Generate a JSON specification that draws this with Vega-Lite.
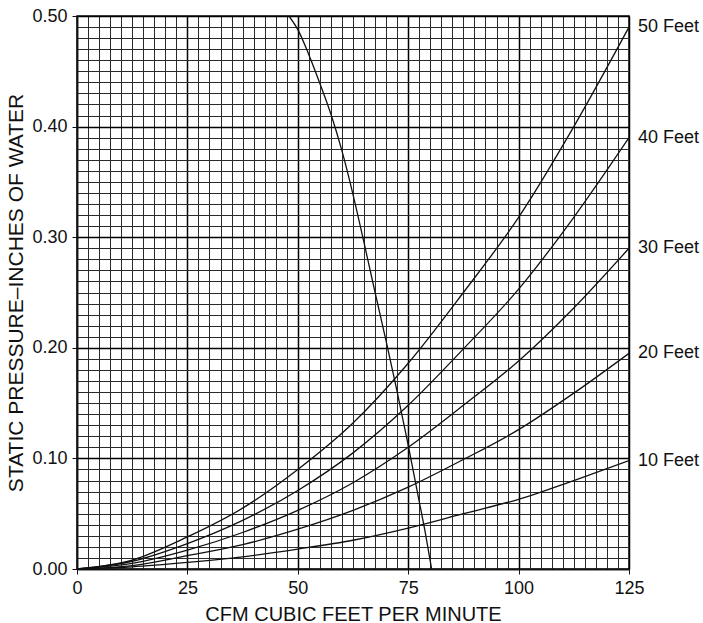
{
  "$schema": "https://vega.github.io/schema/vega-lite/v6.json",
  "width": 552,
  "height": 553,
  "autosize": "none",
  "padding": {"left": 77, "top": 16, "right": 74, "bottom": 54},
  "background": "white",
  "data": {
    "values": [
      {"series": "50 Feet", "cfm": 0, "sp": 0},
      {"series": "50 Feet", "cfm": 12.5, "sp": 0.008},
      {"series": "50 Feet", "cfm": 25, "sp": 0.029},
      {"series": "50 Feet", "cfm": 37.5, "sp": 0.055},
      {"series": "50 Feet", "cfm": 50, "sp": 0.090},
      {"series": "50 Feet", "cfm": 62.5, "sp": 0.132},
      {"series": "50 Feet", "cfm": 75, "sp": 0.186},
      {"series": "50 Feet", "cfm": 87.5, "sp": 0.250},
      {"series": "50 Feet", "cfm": 100, "sp": 0.318},
      {"series": "50 Feet", "cfm": 112.5, "sp": 0.400},
      {"series": "50 Feet", "cfm": 125, "sp": 0.490},
      {"series": "40 Feet", "cfm": 0, "sp": 0},
      {"series": "40 Feet", "cfm": 12.5, "sp": 0.007},
      {"series": "40 Feet", "cfm": 25, "sp": 0.023},
      {"series": "40 Feet", "cfm": 37.5, "sp": 0.044},
      {"series": "40 Feet", "cfm": 50, "sp": 0.071},
      {"series": "40 Feet", "cfm": 62.5, "sp": 0.105},
      {"series": "40 Feet", "cfm": 75, "sp": 0.148},
      {"series": "40 Feet", "cfm": 87.5, "sp": 0.199},
      {"series": "40 Feet", "cfm": 100, "sp": 0.253},
      {"series": "40 Feet", "cfm": 112.5, "sp": 0.318},
      {"series": "40 Feet", "cfm": 125, "sp": 0.390},
      {"series": "30 Feet", "cfm": 0, "sp": 0},
      {"series": "30 Feet", "cfm": 12.5, "sp": 0.005},
      {"series": "30 Feet", "cfm": 25, "sp": 0.017},
      {"series": "30 Feet", "cfm": 37.5, "sp": 0.033},
      {"series": "30 Feet", "cfm": 50, "sp": 0.053},
      {"series": "30 Feet", "cfm": 62.5, "sp": 0.078},
      {"series": "30 Feet", "cfm": 75, "sp": 0.110},
      {"series": "30 Feet", "cfm": 87.5, "sp": 0.148},
      {"series": "30 Feet", "cfm": 100, "sp": 0.188},
      {"series": "30 Feet", "cfm": 112.5, "sp": 0.236},
      {"series": "30 Feet", "cfm": 125, "sp": 0.290},
      {"series": "20 Feet", "cfm": 0, "sp": 0},
      {"series": "20 Feet", "cfm": 12.5, "sp": 0.003},
      {"series": "20 Feet", "cfm": 25, "sp": 0.012},
      {"series": "20 Feet", "cfm": 37.5, "sp": 0.022},
      {"series": "20 Feet", "cfm": 50, "sp": 0.036},
      {"series": "20 Feet", "cfm": 62.5, "sp": 0.053},
      {"series": "20 Feet", "cfm": 75, "sp": 0.074},
      {"series": "20 Feet", "cfm": 87.5, "sp": 0.099},
      {"series": "20 Feet", "cfm": 100, "sp": 0.126},
      {"series": "20 Feet", "cfm": 112.5, "sp": 0.159},
      {"series": "20 Feet", "cfm": 125, "sp": 0.195},
      {"series": "10 Feet", "cfm": 0, "sp": 0},
      {"series": "10 Feet", "cfm": 12.5, "sp": 0.002},
      {"series": "10 Feet", "cfm": 25, "sp": 0.006},
      {"series": "10 Feet", "cfm": 37.5, "sp": 0.011},
      {"series": "10 Feet", "cfm": 50, "sp": 0.018},
      {"series": "10 Feet", "cfm": 62.5, "sp": 0.026},
      {"series": "10 Feet", "cfm": 75, "sp": 0.037},
      {"series": "10 Feet", "cfm": 87.5, "sp": 0.050},
      {"series": "10 Feet", "cfm": 100, "sp": 0.063},
      {"series": "10 Feet", "cfm": 112.5, "sp": 0.080},
      {"series": "10 Feet", "cfm": 125, "sp": 0.098},
      {"series": "Fan", "cfm": 48, "sp": 0.500},
      {"series": "Fan", "cfm": 50.1, "sp": 0.487},
      {"series": "Fan", "cfm": 52.5, "sp": 0.465},
      {"series": "Fan", "cfm": 55, "sp": 0.439},
      {"series": "Fan", "cfm": 57.6, "sp": 0.410},
      {"series": "Fan", "cfm": 60, "sp": 0.378},
      {"series": "Fan", "cfm": 62.6, "sp": 0.337},
      {"series": "Fan", "cfm": 65, "sp": 0.295},
      {"series": "Fan", "cfm": 67.5, "sp": 0.250},
      {"series": "Fan", "cfm": 70, "sp": 0.206},
      {"series": "Fan", "cfm": 72.3, "sp": 0.164},
      {"series": "Fan", "cfm": 75, "sp": 0.112},
      {"series": "Fan", "cfm": 77.3, "sp": 0.065},
      {"series": "Fan", "cfm": 79, "sp": 0.030},
      {"series": "Fan", "cfm": 80.3, "sp": 0}
    ]
  },
  "encoding": {
    "x": {
      "field": "cfm",
      "type": "quantitative",
      "scale": {"domain": [0, 125], "nice": false},
      "title": "CFM CUBIC FEET PER MINUTE",
      "axis": {
        "values": [0, 2.5, 5, 7.5, 10, 12.5, 15, 17.5, 20, 22.5, 25, 27.5, 30, 32.5, 35, 37.5, 40, 42.5, 45, 47.5, 50, 52.5, 55, 57.5, 60, 62.5, 65, 67.5, 70, 72.5, 75, 77.5, 80, 82.5, 85, 87.5, 90, 92.5, 95, 97.5, 100, 102.5, 105, 107.5, 110, 112.5, 115, 117.5, 120, 122.5, 125],
        "grid": true,
        "gridColor": {"condition": {"test": "datum.value % 25 === 0", "value": "#000"}, "value": "#2a2a2a"},
        "gridWidth": {"condition": {"test": "datum.value % 25 === 0", "value": 1.5}, "value": 1},
        "tickSize": {"condition": {"test": "datum.value % 25 === 0", "value": 5}, "value": 0},
        "tickColor": "#111",
        "labelExpr": "datum.value % 25 === 0 ? format(datum.value, 'd') : ''",
        "labelOverlap": false,
        "labelFlush": false,
        "labelFont": "Liberation Sans",
        "labelFontSize": 18,
        "labelColor": "#111",
        "labelPadding": 5,
        "titleFont": "Liberation Sans",
        "titleFontSize": 20,
        "titleFontWeight": "normal",
        "titleColor": "#111",
        "titlePadding": 7,
        "domainColor": "#111",
        "domainWidth": 1.5
      }
    },
    "y": {
      "field": "sp",
      "type": "quantitative",
      "scale": {"domain": [0, 0.5], "nice": false},
      "title": "STATIC PRESSURE\u2013INCHES OF WATER",
      "axis": {
        "values": [0, 0.01, 0.02, 0.03, 0.04, 0.05, 0.06, 0.07, 0.08, 0.09, 0.1, 0.11, 0.12, 0.13, 0.14, 0.15, 0.16, 0.17, 0.18, 0.19, 0.2, 0.21, 0.22, 0.23, 0.24, 0.25, 0.26, 0.27, 0.28, 0.29, 0.3, 0.31, 0.32, 0.33, 0.34, 0.35, 0.36, 0.37, 0.38, 0.39, 0.4, 0.41, 0.42, 0.43, 0.44, 0.45, 0.46, 0.47, 0.48, 0.49, 0.5],
        "grid": true,
        "gridColor": {"condition": {"test": "abs(datum.value * 10 - round(datum.value * 10)) < 0.001", "value": "#000"}, "value": "#2a2a2a"},
        "gridWidth": {"condition": {"test": "abs(datum.value * 10 - round(datum.value * 10)) < 0.001", "value": 1.5}, "value": 1},
        "tickSize": {"condition": {"test": "abs(datum.value * 10 - round(datum.value * 10)) < 0.001", "value": 5}, "value": 0},
        "tickColor": "#111",
        "labelExpr": "abs(datum.value * 10 - round(datum.value * 10)) < 0.001 ? format(datum.value, '.2f') : ''",
        "labelOverlap": false,
        "labelFlush": false,
        "labelFont": "Liberation Sans",
        "labelFontSize": 18,
        "labelColor": "#111",
        "labelPadding": 5,
        "titleFont": "Liberation Sans",
        "titleFontSize": 21,
        "titleFontWeight": "normal",
        "titleColor": "#111",
        "titlePadding": 5,
        "domainColor": "#111",
        "domainWidth": 1.5
      }
    }
  },
  "layer": [
    {
      "mark": {"type": "line", "color": "#111", "strokeWidth": 1.3, "interpolate": "monotone", "clip": true},
      "encoding": {
        "detail": {"field": "series", "type": "nominal"}
      }
    },
    {
      "transform": [{"filter": "datum.cfm === 125 && datum.series !== 'Fan'"}],
      "mark": {"type": "text", "align": "left", "baseline": "middle", "dx": 9, "font": "Liberation Sans", "fontSize": 18, "color": "#111"},
      "encoding": {
        "text": {"field": "series", "type": "nominal"}
      }
    }
  ],
  "config": {
    "view": {"stroke": "#111", "strokeWidth": 1.5}
  }
}
